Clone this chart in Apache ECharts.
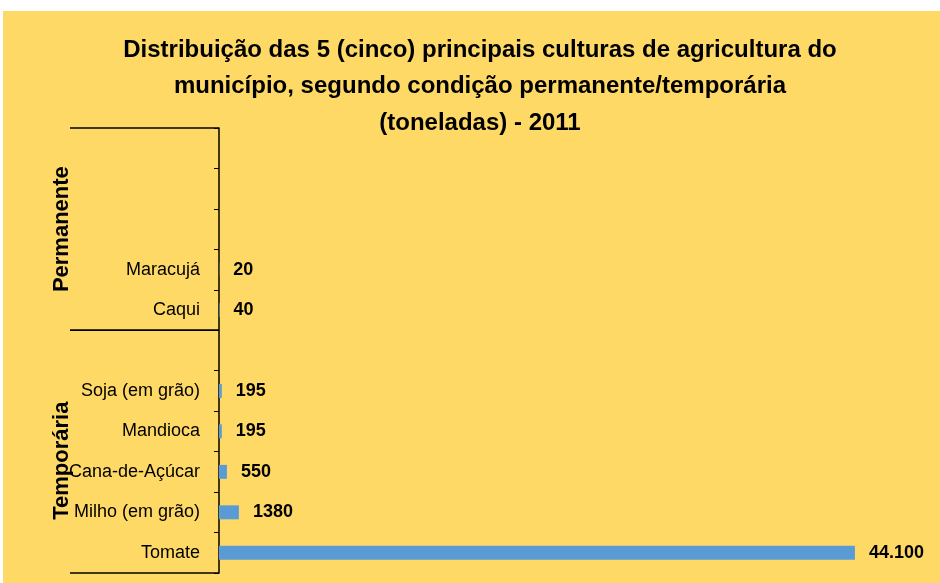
<!DOCTYPE html>
<html>
<head>
<meta charset="utf-8">
<script src="https://cdn.jsdelivr.net/npm/echarts@6/dist/echarts.min.js"></script>
<style>
  html, body { margin: 0; padding: 0; background: #fff; }
  #chart { position: absolute; left: 3px; top: 11px; width: 937px; height: 572px; }
</style>
</head>
<body>
<div id="chart"></div>
<script>
// categorias de baixo para cima (slots vazios = espaços)
const categories = ['Tomate', 'Milho (em grão)', 'Cana-de-Açúcar', 'Mandioca', 'Soja (em grão)', ' ', 'Caqui', 'Maracujá', '  ', '   ', '    '];
const values = [44100, 1380, 550, 195, 195, null, 40, 20, null, null, null];
// grupos: índice inicial / final das categorias
const groupNames = ['Temporária', 'Permanente'];
const groupStart = [0, 6];
const groupEnd = [5, 10];

const titleText = 'Distribuição das 5 (cinco) principais culturas de agricultura do\nmunicípio, segundo condição permanente/temporária\n(toneladas) - 2011';
const FONT = '"Liberation Sans", Arial, sans-serif';

function fmt(v) {
  return v >= 10000 ? String(v).replace(/\B(?=(\d{3})+(?!\d))/g, '.') : String(v);
}

const chart = echarts.init(document.getElementById('chart'));
chart.setOption({
  backgroundColor: '#FFD966',
  animation: false,
  title: {
    text: titleText,
    left: 472,
    top: 16,
    textAlign: 'center',
    textStyle: { fontFamily: FONT, fontSize: 24, fontWeight: 'bold', color: '#000', lineHeight: 36.5 }
  },
  grid: { left: 216, right: 0, top: 117, bottom: 10 },
  xAxis: { type: 'value', min: 0, max: 50000, show: false },
  yAxis: {
    type: 'category',
    data: categories,
    axisLine: { lineStyle: { color: '#000', width: 1.5 } },
    axisTick: { show: true, length: 5, lineStyle: { color: '#000' } },
    axisLabel: { fontFamily: FONT, fontSize: 18, color: '#000', margin: 19 },
    splitLine: { show: false }
  },
  series: [{
    type: 'bar',
    data: values,
    barWidth: 14,
    itemStyle: { color: '#5B9BD5' },
    label: {
      show: true,
      position: 'right',
      distance: 14,
      fontFamily: FONT,
      fontSize: 18,
      fontWeight: 'bold',
      color: '#000',
      formatter: (p) => p.value == null ? '' : fmt(p.value)
    }
  }]
});

// linhas e rótulos dos grupos, posicionados pelo eixo
const yOf = (i) => chart.convertToPixel({ yAxisIndex: 0 }, i);
const band = yOf(0) - yOf(1);
const axisX = chart.convertToPixel({ xAxisIndex: 0 }, 0);
const graphics = [];
groupNames.forEach((name, g) => {
  const yBottom = yOf(groupStart[g]) + band / 2;
  const yTop = yOf(groupEnd[g]) - band / 2;
  [yBottom, yTop].forEach(y => {
    graphics.push({ type: 'line', shape: { x1: 67, y1: y, x2: axisX, y2: y }, style: { stroke: '#000', lineWidth: 1.5 } });
  });
  graphics.push({
    type: 'text',
    x: 59, y: (yBottom + yTop) / 2 + (g === 0 ? 9 : 0),
    rotation: Math.PI / 2,
    style: { text: name, fontFamily: FONT, fontSize: 22, fontWeight: 'bold', fill: '#000', align: 'center', verticalAlign: 'middle' }
  });
});
chart.setOption({ graphic: graphics });
</script>
</body>
</html>
